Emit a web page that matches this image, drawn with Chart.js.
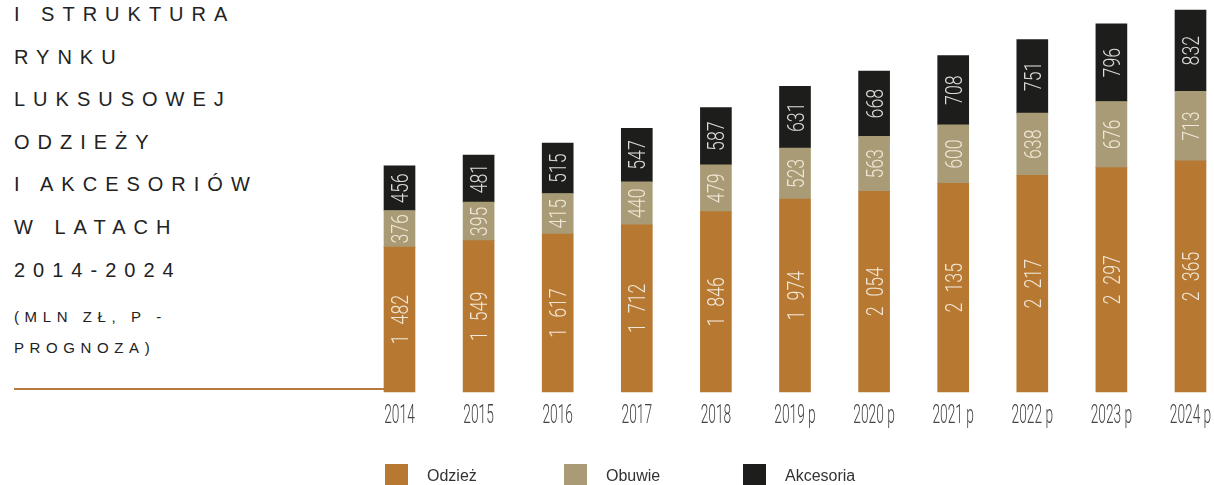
<!DOCTYPE html>
<html lang="pl">
<head>
<meta charset="utf-8">
<title>Struktura rynku luksusowej odzieży i akcesoriów</title>
<script src="https://cdn.jsdelivr.net/npm/chart.js@4"></script>
<style>
  html, body { margin: 0; padding: 0; background: #fff; overflow: hidden; }
  #wrap { position: relative; width: 1214px; height: 485px; }
  #chart { position: absolute; left: 0; top: 0; }
  .title {
    position: absolute; left: 14px; top: -7px;
    font-family: "Liberation Sans", Arial, sans-serif;
    font-size: 20px; line-height: 42.6px; letter-spacing: 8px;
    color: #222; white-space: nowrap;
  }
  .sub {
    position: absolute; left: 14px; top: 300.5px;
    font-family: "Liberation Sans", Arial, sans-serif;
    font-size: 15px; line-height: 31px; letter-spacing: 5.6px;
    color: #222; white-space: nowrap;
  }
  .rule {
    position: absolute; left: 14px; top: 388px; width: 371px; height: 2.4px;
    background: #b87a3a;
  }
  #legend {
    position: absolute; left: 385px; top: 464px; height: 22px;
    font-family: "Liberation Sans", Arial, sans-serif; font-size: 16px; color: #333;
  }
  #legend .item { position: absolute; top: 0; height: 22px; white-space: nowrap; }
  #legend .box { position: absolute; left: 0; top: 0; width: 23px; height: 22px; }
  #legend .lbl { position: absolute; left: 42px; top: 3px; line-height: 18px; }
</style>
</head>
<body>
<div id="wrap">
  <div class="title">I STRUKTURA<br>RYNKU<br>LUKSUSOWEJ<br>ODZIEŻY<br>I AKCESORIÓW<br>W LATACH<br>2014-2024</div>
  <div class="sub">(MLN ZŁ, P -<br>PROGNOZA)</div>
  <div class="rule"></div>
  <canvas id="chart" width="1214" height="485"></canvas>
  <div id="legend"></div>
</div>
<script>
// Years (p = prognoza)
const years = ['2014', '2015', '2016', '2017', '2018', '2019 p', '2020 p', '2021 p', '2022 p', '2023 p', '2024 p'];
// Market value, mln zł
const odziez    = [1482, 1549, 1617, 1712, 1846, 1974, 2054, 2135, 2217, 2297, 2365];
const obuwie    = [376, 395, 415, 440, 479, 523, 563, 600, 638, 676, 713];
const akcesoria = [456, 481, 515, 547, 587, 631, 668, 708, 751, 796, 832];
const seriesNames = ['Odzież', 'Obuwie', 'Akcesoria'];
const seriesColors = ['#b77832', '#a89b76', '#1d1d1b'];

const condensedFont = 'Roboto, "Liberation Sans Narrow", "DejaVu Sans Condensed", sans-serif';

function fmt(v) {
  // thousands separated by a figure space
  return String(v).replace(/\B(?=(\d{3})+(?!\d))/g, '\u2007');
}

// Vertical value labels inside every segment, drawn in a narrow face
const segmentLabels = {
  id: 'segmentLabels',
  afterDatasetsDraw(chart) {
    const ctx = chart.ctx;
    chart.data.datasets.forEach((ds, di) => {
      const meta = chart.getDatasetMeta(di);
      meta.data.forEach((bar, i) => {
        const cy = (bar.y + bar.base) / 2;
        ctx.save();
        ctx.translate(bar.x + 8.5, cy);
        ctx.rotate(-Math.PI / 2);
        ctx.scale(0.74, 1);
        ctx.font = '300 24px ' + condensedFont;
        ctx.fillStyle = di === 2 ? '#dcdcdc' : '#f1e7d6';
        ctx.textAlign = 'center';
        ctx.textBaseline = 'alphabetic';
        ctx.fillText(fmt(ds.data[i]), 0, 0);
        ctx.restore();
      });
    });
  }
};

// Year labels under the bars, in the same narrow face
const yearLabels = {
  id: 'yearLabels',
  afterDraw(chart) {
    const ctx = chart.ctx;
    const xs = chart.scales.x;
    years.forEach((label, i) => {
      const x = xs.getPixelForValue(i);
      ctx.save();
      ctx.translate(x, 423);
      ctx.scale(0.55, 1);
      ctx.font = '300 25px ' + condensedFont;
      ctx.fillStyle = '#444444';
      ctx.textAlign = 'center';
      ctx.textBaseline = 'alphabetic';
      ctx.fillText(label, 0, 0);
      ctx.restore();
    });
  }
};

const data = {
  labels: years,
  datasets: [odziez, obuwie, akcesoria].map((values, k) => ({
    label: seriesNames[k],
    data: values,
    backgroundColor: seriesColors[k],
    borderWidth: 0,
    barThickness: 31,
    clip: false
  }))
};

new Chart(document.getElementById('chart'), {
  type: 'bar',
  data,
  options: {
    responsive: false,
    animation: false,
    layout: { padding: { left: 399.5, right: 23.5, top: 0, bottom: 93 } },
    plugins: { legend: { display: false }, tooltip: { enabled: false } },
    scales: {
      x: {
        stacked: true, offset: false, display: false,
        grid: { display: false }
      },
      y: {
        stacked: true, display: false, min: 0, max: 4012,
        grid: { display: false }
      }
    }
  },
  plugins: [segmentLabels, yearLabels]
});

// Legend built from the same series names and colours
const legend = document.getElementById('legend');
seriesNames.forEach((name, k) => {
  const item = document.createElement('div');
  item.className = 'item';
  item.style.left = (k * 179) + 'px';
  const box = document.createElement('div');
  box.className = 'box';
  box.style.background = seriesColors[k];
  const lbl = document.createElement('div');
  lbl.className = 'lbl';
  lbl.textContent = name;
  item.appendChild(box);
  item.appendChild(lbl);
  legend.appendChild(item);
});
</script>
</body>
</html>
